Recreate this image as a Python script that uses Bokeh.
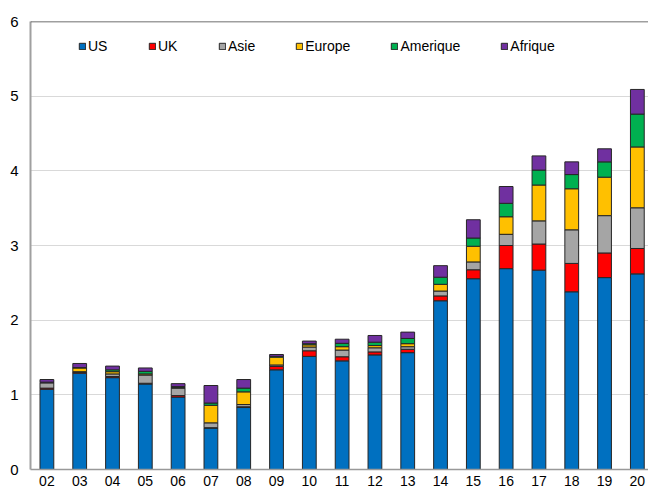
from bokeh.plotting import figure
from bokeh.models import (Range1d, FixedTicker, Span, Legend, LegendItem,
                          ColumnDataSource)
from bokeh.embed import file_html
from bokeh.resources import INLINE

years = ["02", "03", "04", "05", "06", "07", "08", "09", "10", "11",
         "12", "13", "14", "15", "16", "17", "18", "19", "20"]
us = [1.075, 1.29, 1.23, 1.145, 0.97, 0.555, 0.83, 1.335, 1.515, 1.455,
      1.535, 1.565, 2.26, 2.555, 2.69, 2.67, 2.38, 2.57, 2.62]
uk = [0.015, 0.01, 0.015, 0.01, 0.02, 0.005, 0.01, 0.045, 0.075, 0.055,
      0.04, 0.045, 0.065, 0.12, 0.31, 0.35, 0.38, 0.33, 0.34]
asie = [0.07, 0.01, 0.035, 0.11, 0.10, 0.065, 0.03, 0.02, 0.05, 0.09,
        0.055, 0.035, 0.065, 0.105, 0.15, 0.31, 0.45, 0.50, 0.545]
europe = [0.005, 0.05, 0.03, 0.015, 0.01, 0.235, 0.17, 0.105, 0.03, 0.045,
          0.03, 0.04, 0.09, 0.21, 0.235, 0.48, 0.55, 0.515, 0.815]
amerique = [0.005, 0.005, 0.025, 0.035, 0.01, 0.03, 0.05, 0.01, 0.015, 0.045,
            0.045, 0.07, 0.095, 0.11, 0.18, 0.20, 0.19, 0.205, 0.44]
afrique = [0.035, 0.055, 0.05, 0.045, 0.04, 0.235, 0.115, 0.025, 0.035, 0.055,
           0.09, 0.085, 0.155, 0.245, 0.225, 0.19, 0.17, 0.175, 0.33]

series_names = ["US", "UK", "Asie", "Europe", "Amerique", "Afrique"]
series_values = [us, uk, asie, europe, amerique, afrique]
colors = ["#0070C0", "#FF0000", "#A5A5A5", "#FFC000", "#00B050", "#7030A0"]
y_ticks = [0, 1, 2, 3, 4, 5, 6]

xs = list(range(len(years)))
data = {"x": xs}
for n, v in zip(series_names, series_values):
    data[n] = v
source = ColumnDataSource(data)

FONT = "Liberation Sans"

p = figure(width=648, height=492, output_backend="svg", toolbar_location=None,
           title=None, x_range=Range1d(-0.5, 18.34), y_range=Range1d(0, 6),
           min_border_left=30, min_border_right=0, min_border_top=21,
           min_border_bottom=23)
p.outline_line_color = None
p.background_fill_color = "white"

renderers = p.vbar_stack(series_names, x="x", width=0.42, color=colors,
                         line_color="#262626", line_width=1, source=source)

# axes
p.xaxis.ticker = FixedTicker(ticks=xs)
p.xaxis.major_label_overrides = {i: y for i, y in enumerate(years)}
p.xaxis.major_tick_line_color = None
p.xaxis.minor_tick_line_color = None
p.xaxis.major_tick_out = 0
p.xaxis.major_label_standoff = 6
p.xaxis.axis_line_color = "#999999"
p.xaxis.axis_line_width = 1.5
p.xaxis.major_label_text_font = FONT
p.xaxis.major_label_text_font_size = "14px"
p.xaxis.major_label_text_color = "#000000"

p.yaxis.ticker = FixedTicker(ticks=y_ticks)
p.yaxis.major_tick_line_color = None
p.yaxis.minor_tick_line_color = None
p.yaxis.major_tick_out = 0
p.yaxis.major_label_standoff = 12
p.yaxis.axis_line_color = "#a0a0a0"
p.yaxis.axis_line_width = 2
p.yaxis.major_label_text_font = FONT
p.yaxis.major_label_text_font_size = "15px"
p.yaxis.major_label_text_color = "#000000"

p.xgrid.grid_line_color = None
p.ygrid.ticker = FixedTicker(ticks=y_ticks)
p.ygrid.grid_line_color = "#d9d9d9"
p.ygrid.grid_line_width = 1

p.add_layout(Span(location=6, dimension="width", line_color="#404040",
                  line_width=1.5))

legend = Legend(items=[LegendItem(label=n, renderers=[r])
                       for n, r in zip(series_names, renderers)],
                orientation="horizontal", location=(48, 415),
                border_line_color=None, background_fill_alpha=0,
                padding=0, margin=0, spacing=40, label_standoff=2,
                glyph_width=8, glyph_height=8,
                label_text_font=FONT, label_text_font_size="14px",
                label_text_color="#000000")
p.add_layout(legend, "center")

open("out.html", "w").write(file_html(p, INLINE))
